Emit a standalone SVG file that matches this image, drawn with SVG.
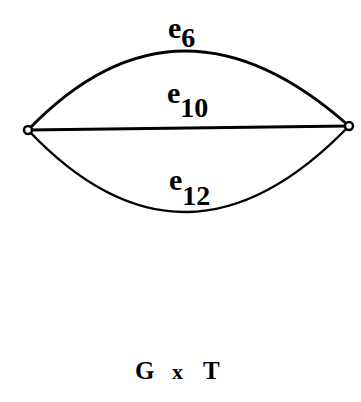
<svg xmlns="http://www.w3.org/2000/svg" width="361" height="402" viewBox="0 0 361 402">
<style>
.edge{fill:none;stroke:#000;stroke-width:2.5}
.node{fill:#fff;stroke:#000;stroke-width:2.5}
.lbl{font-family:"Liberation Serif",serif;font-weight:bold;fill:#000}
</style>
<rect width="361" height="402" fill="#fff"/>
<g id="edges">
<path id="e6" class="edge" d="M28,130 Q178,-26 349,126" style="stroke-width:3"/>
<path id="e10" class="edge" d="M28,130 L349,126" style="stroke-width:3"/>
<path id="e12" class="edge" d="M28,130 Q185,296 349,126"/>
</g>
<g id="n1"><circle class="node" cx="28" cy="130" r="4"/></g>
<g id="n2"><circle class="node" cx="349" cy="126" r="4"/></g>
<g id="labels">
<text class="lbl" x="168" y="38" font-size="30">e<tspan font-size="28" dy="9">6</tspan></text>
<text class="lbl" x="167" y="103" font-size="30">e<tspan font-size="28" dy="14">10</tspan></text>
<text class="lbl" x="169" y="190" font-size="30">e<tspan font-size="28" dy="15">12</tspan></text>
<text class="lbl" font-size="25" y="379"><tspan x="135">G</tspan><tspan x="172" font-size="22">x</tspan><tspan x="203">T</tspan></text>
</g>
</svg>
